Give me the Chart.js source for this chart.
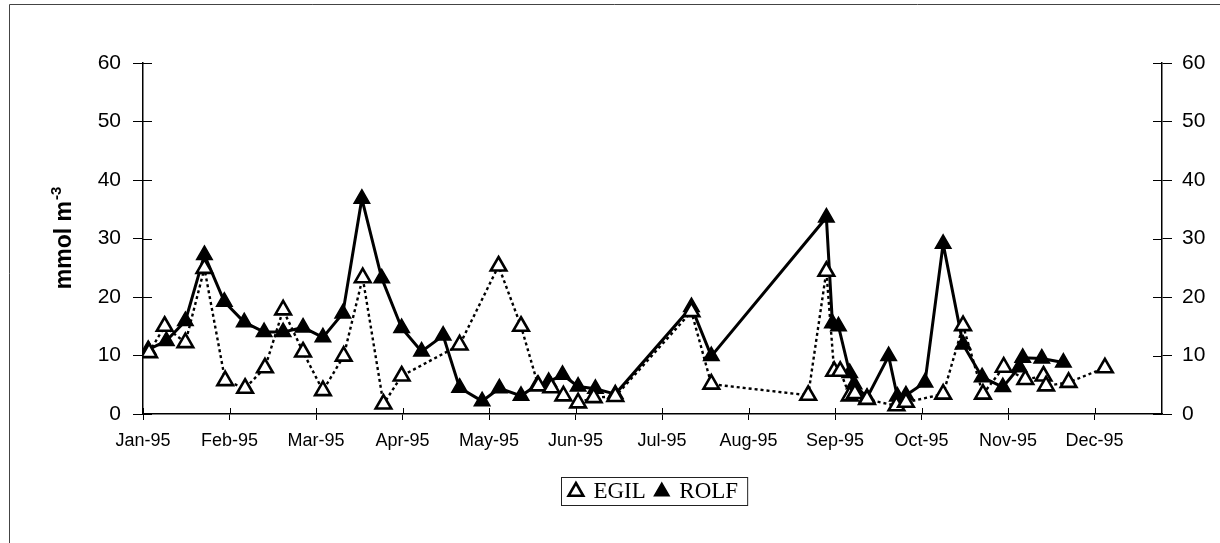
<!DOCTYPE html>
<html>
<head>
<meta charset="utf-8">
<script src="https://cdn.jsdelivr.net/npm/chart.js@4"></script>
<style>
  html, body { margin: 0; padding: 0; background: #fff; }
</style>
</head>
<body>
<canvas id="chart" width="1220" height="543"></canvas>
<script>
// month labels for x ticks (tick i = first day of month i)
var monthLabels = ['Jan-95', 'Feb-95', 'Mar-95', 'Apr-95', 'May-95', 'Jun-95',
                   'Jul-95', 'Aug-95', 'Sep-95', 'Oct-95', 'Nov-95', 'Dec-95'];
var yTicks = [0, 10, 20, 30, 40, 50, 60];

// EGIL - sampling dates (in months since Jan-95) and values (mmol m-3)
var egilMonth = [0.07, 0.25, 0.49, 0.71, 0.95, 1.18, 1.41, 1.62, 1.85, 2.08, 2.32, 2.54, 2.78, 2.99,
                 3.66, 4.11, 4.37, 4.57, 4.72, 4.86, 5.03, 5.21, 5.46, 6.34, 6.57, 7.69, 7.90, 7.99,
                 8.06, 8.17, 8.23, 8.37, 8.71, 8.82, 9.25, 9.48, 9.71, 9.95, 10.20, 10.41, 10.44,
                 10.70, 11.12];
var egilValue = [10.5, 15.0, 12.2, 24.9, 5.7, 4.4, 7.9, 17.8, 10.6, 4.0, 9.9, 23.3, 1.7, 6.5,
                 11.8, 25.3, 15.0, 4.8, 4.5, 3.1, 1.9, 2.8, 3.0, 17.5, 5.1, 3.2, 24.4, 7.3,
                 7.3, 3.1, 3.5, 2.5, 1.4, 2.0, 3.4, 15.1, 3.4, 8.0, 5.9, 6.5, 4.8,
                 5.4, 7.9];

// ROLF
var rolfMonth = [0.06, 0.27, 0.49, 0.71, 0.94, 1.17, 1.40, 1.62, 1.85, 2.08, 2.31, 2.53, 2.76, 2.99,
                 3.22, 3.47, 3.66, 3.92, 4.12, 4.37, 4.56, 4.69, 4.85, 5.03, 5.23, 5.46, 6.34, 6.57,
                 7.90, 7.97, 8.04, 8.17, 8.22, 8.37, 8.62, 8.72, 8.82, 9.04, 9.25, 9.48, 9.70, 9.94,
                 10.13, 10.17, 10.39, 10.64];
var rolfValue = [11.0, 12.5, 15.9, 27.2, 19.2, 15.7, 14.0, 14.0, 14.8, 13.1, 17.2, 36.8, 23.2, 14.7,
                 10.7, 13.4, 4.5, 2.2, 4.4, 3.1, 5.0, 5.5, 6.7, 4.7, 4.3, 3.4, 18.3, 9.9,
                 33.6, 15.5, 15.0, 7.0, 5.1, 2.8, 9.9, 3.0, 3.2, 5.4, 29.1, 11.9, 6.3, 4.6,
                 8.0, 9.6, 9.5, 8.8];

function toPoints(xs, ys) {
    return xs.map(function (x, i) { return { x: x, y: ys[i] }; });
}

// kreuzende Tickmarken (nach innen), Rahmen, Achsentitel, Legendenkasten
var extras = {
    id: 'extras',
    beforeDatasetsDraw: function (chart) {
        var ctx = chart.ctx, a = chart.chartArea;
        var x = chart.scales.x, y = chart.scales.y;
        ctx.save();
        ctx.strokeStyle = '#000';
        ctx.lineWidth = 1;
        ctx.beginPath();
        yTicks.forEach(function (v) {
            var py = Math.round(y.getPixelForValue(v)) + 0.5;
            ctx.moveTo(a.left, py); ctx.lineTo(a.left + 9, py);
            ctx.moveTo(a.right - 9, py); ctx.lineTo(a.right, py);
        });
        monthLabels.forEach(function (l, i) {
            var px = Math.round(x.getPixelForValue(i)) + 0.5;
            ctx.moveTo(px, a.bottom - 6); ctx.lineTo(px, a.bottom);
        });
        ctx.stroke();
        ctx.restore();
    },
    afterDraw: function (chart) {
        var ctx = chart.ctx, a = chart.chartArea;
        ctx.save();
        // outer frame
        ctx.strokeStyle = '#444';
        ctx.lineWidth = 1;
        ctx.beginPath();
        ctx.moveTo(9.5, 543); ctx.lineTo(9.5, 4.5); ctx.lineTo(1220, 4.5);
        ctx.stroke();

        // y axis title with superscript
        ctx.fillStyle = '#000';
        ctx.translate(71, (a.top + a.bottom) / 2);
        ctx.rotate(-Math.PI / 2);
        var main = 'mmol m';
        ctx.font = 'bold 23px "Liberation Sans", Arial, sans-serif';
        var w1 = ctx.measureText(main).width;
        ctx.font = 'bold 15px "Liberation Sans", Arial, sans-serif';
        var w2 = ctx.measureText('-3').width;
        var start = -(w1 + w2) / 2;
        ctx.font = 'bold 23px "Liberation Sans", Arial, sans-serif';
        ctx.textBaseline = 'alphabetic';
        ctx.fillText(main, start, 0);
        ctx.font = 'bold 15px "Liberation Sans", Arial, sans-serif';
        ctx.fillText('-3', start + w1 + 1, -10);
        ctx.restore();

        // box round the legend
        var boxes = chart.legend.legendHitBoxes;
        if (boxes && boxes.length) {
            var l = Math.min.apply(null, boxes.map(function (b) { return b.left; }));
            var r = Math.max.apply(null, boxes.map(function (b) { return b.left + b.width; }));
            var t = Math.min.apply(null, boxes.map(function (b) { return b.top; }));
            var bt = Math.max.apply(null, boxes.map(function (b) { return b.top + b.height; }));
            ctx.save();
            ctx.strokeStyle = '#222';
            ctx.lineWidth = 1;
            ctx.strokeRect(Math.round(l) - 8.5, Math.round(t) - 2.5, r - l + 18, bt - t + 5);
            ctx.restore();
        }
    }
};

var axisFont = { family: '"Liberation Sans", Arial, sans-serif', size: 21 };

new Chart(document.getElementById('chart').getContext('2d'), {
    type: 'line',
    data: {
        datasets: [
            {
                label: 'EGIL',
                data: toPoints(egilMonth, egilValue),
                borderColor: '#000',
                borderWidth: 2.4,
                borderDash: [3, 3],
                pointStyle: 'triangle',
                pointRadius: 9,
                pointHoverRadius: 9,
                pointBackgroundColor: '#fff',
                pointBorderColor: '#000',
                pointBorderWidth: 2.6,
                tension: 0
            },
            {
                label: 'ROLF',
                data: toPoints(rolfMonth, rolfValue),
                borderColor: '#000',
                borderWidth: 3,
                pointStyle: 'triangle',
                pointRadius: 9,
                pointHoverRadius: 9,
                pointBackgroundColor: '#000',
                pointBorderColor: '#000',
                pointBorderWidth: 1.5,
                tension: 0
            }
        ]
    },
    options: {
        responsive: false,
        animation: false,
        devicePixelRatio: 1,
        layout: { padding: { left: 88, top: 63, right: 0, bottom: 30 } },
        plugins: {
            tooltip: { enabled: false },
            legend: {
                position: 'bottom',
                labels: {
                    usePointStyle: true,
                    boxWidth: 12,
                    boxHeight: 12,
                    padding: 10,
                    color: '#000',
                    font: { family: '"Liberation Serif", "Times New Roman", serif', size: 23 }
                }
            }
        },
        scales: {
            x: {
                type: 'linear',
                min: 0,
                max: 11.78,
                afterBuildTicks: function (scale) {
                    scale.ticks = monthLabels.map(function (l, i) { return { value: i }; });
                },
                afterFit: function (scale) { scale.height = 56; },
                ticks: {
                    autoSkip: false,
                    maxRotation: 0,
                    padding: 10,
                    color: '#000',
                    font: { family: '"Liberation Sans", Arial, sans-serif', size: 18 },
                    callback: function (v) { return monthLabels[v]; }
                },
                grid: { drawOnChartArea: false, tickLength: 6, color: '#000', lineWidth: 1 },
                border: { color: '#000', width: 1.5 }
            },
            y: {
                position: 'left',
                min: 0,
                max: 60,
                afterBuildTicks: function (scale) {
                    scale.ticks = yTicks.map(function (v) { return { value: v }; });
                },
                afterFit: function (scale) { scale.width = 55; },
                ticks: { padding: 12, color: '#000', font: axisFont },
                grid: { drawOnChartArea: false, tickLength: 10, color: '#000', lineWidth: 1 },
                border: { color: '#000', width: 1.5 }
            },
            y2: {
                position: 'right',
                min: 0,
                max: 60,
                afterBuildTicks: function (scale) {
                    scale.ticks = yTicks.map(function (v) { return { value: v }; });
                },
                afterFit: function (scale) { scale.width = 58; },
                ticks: { padding: 10, color: '#000', font: axisFont },
                grid: { drawOnChartArea: false, tickLength: 10, color: '#000', lineWidth: 1 },
                border: { color: '#000', width: 1.5 }
            }
        }
    },
    plugins: [extras]
});
</script>
</body>
</html>
